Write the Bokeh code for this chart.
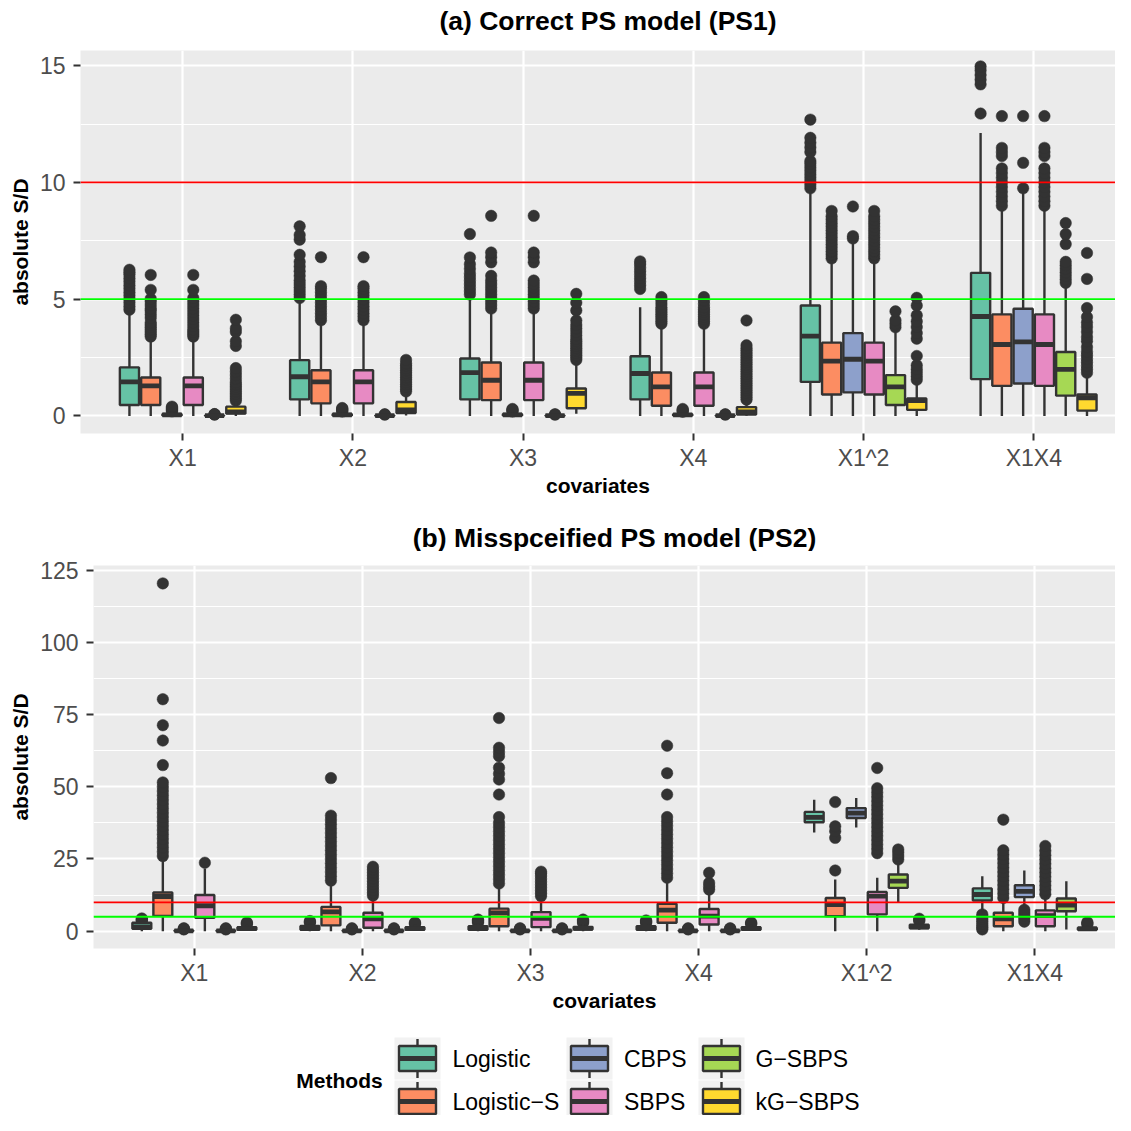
from bokeh.plotting import figure
from bokeh.models import Range1d, FixedTicker, ColumnDataSource, Span
from bokeh.layouts import column
from bokeh.embed import file_html
from bokeh.resources import INLINE
from bokeh.core.properties import value

# ---------------- data ----------------
COVARIATES = ["X1", "X2", "X3", "X4", "X1^2", "X1X4"]
METHODS = ["Logistic", "Logistic\u2212S", "CBPS", "SBPS", "G\u2212SBPS", "kG\u2212SBPS"]
COLORS = ["#66C2A5", "#FC8D62", "#8DA0CB", "#E78AC3", "#A6D854", "#FFD92F"]
THRESHOLDS = [10, 5]
THRESHOLD_COLORS = ["#FF0000", "#00FF00"]
TITLE_A = "(a) Correct PS model (PS1)"
TITLE_B = "(b) Misspceified PS model (PS2)"

# box statistics per method, one row per covariate: [lower whisker, Q1, median, Q3, upper whisker]
PS1_STATS = {
    "Logistic": [[0.0, 0.47, 1.46, 2.08, 4.40], [0.0, 0.71, 1.68, 2.39, 4.95], [0.0, 0.71, 1.86, 2.46, 5.09],
                 [0.0, 0.71, 1.82, 2.56, 4.66], [0.0, 1.46, 3.42, 4.73, 9.64], [0.0, 1.58, 4.26, 6.13, 12.12]],
    "Logistic\u2212S": [[0.0, 0.47, 1.29, 1.65, 3.30], [0.0, 0.54, 1.46, 1.96, 4.00], [0.0, 0.68, 1.53, 2.29, 4.52],
                        [0.0, 0.44, 1.25, 1.86, 3.88], [0.0, 0.92, 2.35, 3.14, 6.65], [0.0, 1.29, 3.06, 4.35, 8.86]],
    "CBPS": [[0.0, 0.02, 0.05, 0.09, 0.18], [0.0, 0.02, 0.05, 0.09, 0.17], [0.0, 0.02, 0.05, 0.09, 0.17],
             [0.0, 0.02, 0.05, 0.08, 0.16], [0.0, 1.01, 2.43, 3.55, 7.50], [0.0, 1.39, 3.17, 4.59, 9.55]],
    "SBPS": [[0.0, 0.47, 1.29, 1.65, 3.30], [0.0, 0.54, 1.46, 1.96, 4.00], [0.0, 0.68, 1.53, 2.29, 4.52],
             [0.0, 0.44, 1.25, 1.86, 3.88], [0.0, 0.92, 2.35, 3.14, 6.65], [0.0, 1.29, 3.06, 4.35, 8.86]],
    "G\u2212SBPS": [[0.0, 0.005, 0.012, 0.025, 0.05], [0.0, 0.005, 0.012, 0.025, 0.05], [0.0, 0.005, 0.012, 0.025, 0.05],
                    [0.0, 0.005, 0.012, 0.025, 0.05], [0.0, 0.47, 1.25, 1.75, 3.67], [0.0, 0.87, 2.00, 2.74, 5.59]],
    "kG\u2212SBPS": [[0.0, 0.10, 0.18, 0.40, 0.60], [0.02, 0.13, 0.26, 0.60, 1.00], [0.10, 0.33, 0.97, 1.18, 2.32],
                     [0.01, 0.06, 0.17, 0.38, 0.65], [0.0, 0.26, 0.66, 0.75, 1.46], [0.0, 0.23, 0.78, 0.92, 1.75]],
}
PS1_OUTLIERS = {
    "Logistic": [[4.55, 4.7, 4.85, 5.0, 5.15, 5.3, 5.45, 5.6, 5.75, 5.9, 6.05, 6.15, 6.26],
                 [5.05, 5.2, 5.35, 5.5, 5.65, 5.8, 6.0, 6.2, 6.4, 6.6, 6.9, 7.55, 7.75, 8.12],
                 [5.2, 5.35, 5.5, 5.65, 5.8, 5.95, 6.1, 6.3, 6.5, 6.79, 7.79],
                 [5.44, 5.6, 5.75, 5.9, 6.05, 6.2, 6.35, 6.5, 6.62],
                 [9.75, 9.9, 10.05, 10.2, 10.35, 10.5, 10.65, 10.8, 10.92, 11.3, 11.5, 11.7, 11.91, 12.69],
                 [12.95, 14.2, 14.4, 14.6, 14.8, 14.97]],
    "Logistic\u2212S": [[3.4, 3.5, 3.6, 3.7, 3.8, 3.9, 4.0, 4.2, 4.35, 4.5, 4.6, 4.75, 4.9, 5.02, 5.4, 6.04],
                        [4.1, 4.25, 4.4, 4.55, 4.7, 4.85, 5.0, 5.15, 5.3, 5.45, 5.56, 6.8],
                        [4.6, 4.75, 4.9, 5.05, 5.2, 5.35, 5.5, 5.65, 5.8, 6.0, 6.58, 6.8, 7.0, 8.57],
                        [3.95, 4.05, 4.15, 4.25, 4.35, 4.45, 4.55, 4.65, 4.8, 4.95, 5.09],
                        [6.75, 6.9, 7.05, 7.2, 7.35, 7.5, 7.65, 7.8, 7.95, 8.1, 8.25, 8.4, 8.55, 8.78],
                        [9.0, 9.2, 9.4, 9.6, 9.8, 10.0, 10.2, 10.4, 10.6, 11.13, 11.3, 11.48, 12.84]],
    "CBPS": [[0.2, 0.24, 0.28, 0.32, 0.36, 0.4], [0.19, 0.23, 0.27, 0.31, 0.34], [0.19, 0.23, 0.27, 0.3],
             [0.18, 0.22, 0.26, 0.3], [7.6, 7.7, 8.97], [9.75, 10.84, 12.84]],
    "SBPS": [[3.4, 3.5, 3.6, 3.7, 3.85, 4.0, 4.15, 4.3, 4.45, 4.6, 4.75, 4.9, 5.05, 5.4, 6.04],
             [4.1, 4.25, 4.4, 4.55, 4.7, 4.85, 5.0, 5.15, 5.3, 5.45, 5.56, 6.8],
             [4.6, 4.75, 4.9, 5.05, 5.2, 5.35, 5.5, 5.65, 5.8, 6.58, 6.8, 7.0, 8.57],
             [3.95, 4.05, 4.15, 4.25, 4.35, 4.45, 4.55, 4.65, 4.8, 4.95, 5.09],
             [6.75, 6.9, 7.05, 7.2, 7.35, 7.5, 7.65, 7.8, 7.95, 8.1, 8.25, 8.4, 8.55, 8.78],
             [9.0, 9.2, 9.4, 9.6, 9.8, 10.0, 10.2, 10.4, 10.6, 11.13, 11.3, 11.48, 12.84]],
    "G\u2212SBPS": [[0.06, 0.07, 0.08], [0.06, 0.07], [0.06, 0.07], [0.06, 0.07], [3.8, 3.95, 4.1, 4.48],
                    [5.7, 5.85, 6.0, 6.15, 6.3, 6.45, 6.6, 7.36, 7.79, 8.26]],
    "kG\u2212SBPS": [[0.65, 0.75, 0.85, 0.95, 1.05, 1.15, 1.25, 1.35, 1.45, 1.6, 1.75, 1.9, 2.05, 3.0, 3.2, 3.6, 3.75, 4.12],
                     [1.05, 1.15, 1.25, 1.35, 1.45, 1.55, 1.65, 1.75, 1.85, 1.95, 2.05, 2.15, 2.25, 2.4],
                     [2.4, 2.5, 2.6, 2.7, 2.8, 2.9, 3.0, 3.1, 3.2, 3.3, 3.45, 3.6, 3.75, 3.9, 4.09, 4.52, 4.85, 5.23],
                     [0.7, 0.8, 0.9, 1.0, 1.1, 1.2, 1.3, 1.4, 1.5, 1.6, 1.7, 1.8, 1.9, 2.0, 2.1, 2.2, 2.3, 2.4, 2.5,
                      2.6, 2.7, 2.8, 2.9, 3.03, 4.09],
                     [1.55, 1.7, 1.85, 2.0, 2.17, 2.57, 3.31, 3.55, 3.81, 4.05, 4.31, 4.73, 5.06],
                     [1.85, 2.0, 2.15, 2.3, 2.45, 2.6, 2.75, 2.95, 3.2, 3.38, 3.6, 3.81, 4.0, 4.24, 4.62, 5.87, 6.98]],
}

PS2_STATS = {
    "Logistic": [[0.0, 0.8, 1.5, 2.9, 3.3], [0.0, 0.5, 1.0, 1.8, 2.7], [0.0, 0.5, 1.0, 1.7, 2.6],
                 [0.0, 0.5, 1.0, 1.7, 2.5], [34.2, 37.7, 39.4, 41.3, 45.5], [6.9, 10.6, 12.7, 14.8, 19.0]],
    "Logistic\u2212S": [[0.0, 5.3, 12.0, 13.4, 25.2], [0.0, 2.0, 6.7, 8.4, 16.5], [0.0, 1.7, 6.3, 7.8, 15.3],
                        [0.0, 2.9, 7.3, 9.5, 17.7], [0.0, 5.2, 9.2, 11.5, 17.9], [0.0, 1.7, 4.3, 6.4, 10.8]],
    "CBPS": [[0.0, 0.05, 0.12, 0.25, 0.5], [0.0, 0.05, 0.12, 0.25, 0.5], [0.0, 0.05, 0.12, 0.25, 0.5],
             [0.0, 0.05, 0.12, 0.25, 0.5], [35.9, 39.2, 40.9, 42.6, 46.1], [8.1, 11.8, 13.8, 15.9, 21.0]],
    "SBPS": [[0.0, 4.6, 8.8, 12.5, 21.7], [0.0, 1.2, 4.3, 6.4, 11.3], [0.0, 1.4, 4.4, 6.6, 11.5],
             [0.0, 2.3, 5.2, 7.7, 13.3], [0.0, 5.8, 12.1, 13.6, 18.5], [0.0, 1.7, 5.4, 7.2, 12.0]],
    "G\u2212SBPS": [[0.0, 0.05, 0.12, 0.25, 0.5], [0.0, 0.05, 0.12, 0.25, 0.5], [0.0, 0.05, 0.12, 0.25, 0.5],
                    [0.0, 0.05, 0.12, 0.25, 0.5], [9.8, 15.0, 17.3, 19.6, 23.5], [0.6, 6.9, 9.0, 11.3, 17.3]],
    "kG\u2212SBPS": [[0.1, 0.5, 0.9, 1.4, 2.2], [0.1, 0.5, 0.9, 1.4, 2.2], [0.0, 0.6, 1.0, 1.5, 2.5],
                     [0.1, 0.5, 0.9, 1.4, 2.2], [0.5, 1.0, 1.5, 2.2, 3.2], [0.1, 0.5, 0.8, 1.2, 2.0]],
}
PS2_OUTLIERS = {
    "Logistic": [[3.5, 3.8, 4.1, 4.4], [2.9, 3.2, 3.5], [2.9, 3.3, 3.7, 4.0], [2.8, 3.1, 3.4, 3.7], [],
                 [0.6, 1.2, 1.8, 2.6, 3.4, 4.2, 5.0, 5.8]],
    "Logistic\u2212S": [[26, 27.5, 29, 30.5, 32, 33.5, 35, 36.5, 38, 39.5, 41, 42.5, 44, 45.5, 47, 48.5, 50, 51.5,
                         57.5, 66, 71.3, 80.3, 120.4],
                        [17.5, 19, 20.5, 22, 23.5, 25, 26.5, 28, 29.5, 31, 32.5, 34, 35.5, 37, 38.5, 40, 53],
                        [16.5, 18, 19.5, 21, 22.5, 24, 25.5, 27, 28.5, 30, 31.5, 33, 34.5, 36, 37.5, 39.5, 47.3,
                         52.5, 54.5, 56.6, 60.6, 62, 63.5, 73.8],
                        [18.5, 20, 21.5, 23, 24.5, 26, 27.5, 29, 30.5, 32, 33.5, 35, 36.5, 38, 39.5, 47.3, 54.7, 64.2],
                        [21.0, 32.3, 34.6, 36.3, 44.7],
                        [11.5, 13, 14.5, 16, 17.5, 19, 20.5, 22, 23.5, 25, 26.5, 28, 38.6]],
    "CBPS": [[0.6, 0.8, 1.0], [0.6, 0.8, 1.0], [0.6, 0.8, 1.0], [0.6, 0.8, 1.0], [], [3.3, 4.4, 5.4, 6.4, 7.4]],
    "SBPS": [[23.7],
             [12.3, 13.3, 14.3, 15.3, 16.3, 17.3, 18.3, 19.3, 20.3, 21.3, 22.3],
             [12.1, 13.1, 14.1, 15.1, 16.1, 17.1, 18.1, 19.1, 20.0, 20.6],
             [14.4, 15.5, 16.7, 20.2],
             [27, 28.5, 30, 31.5, 33, 34.5, 36, 37.5, 39, 40.5, 42, 43.5, 45, 46.5, 48, 49.5, 56.5],
             [12.8, 14.3, 15.8, 17.3, 18.8, 20.3, 21.8, 23.3, 24.8, 26.3, 27.8, 29.5]],
    "G\u2212SBPS": [[0.6, 0.8, 1.0], [0.6, 0.8, 1.0], [0.6, 0.8, 1.0], [0.6, 0.8, 1.0], [24.8, 26.0, 27.2, 28.3], []],
    "kG\u2212SBPS": [[2.4, 2.7, 3.0], [2.4, 2.7, 3.0], [2.8, 3.2, 3.6, 4.0], [2.4, 2.7, 3.0], [3.5, 3.9, 4.3],
                     [2.3, 2.7, 3.1]],
}

PS1_YTICKS = [0, 5, 10, 15]
PS1_YMINOR = [2.5, 7.5, 12.5]
PS2_YTICKS = [0, 25, 50, 75, 100, 125]
PS2_YMINOR = [12.5, 37.5, 62.5, 87.5, 112.5]

# ---------------- styling / layout ----------------
FONT = "Liberation Sans"
FIG_W = 1115
DODGE = 0.125
BOX_W = 0.1125
DARK = "#333333"
X_RANGE = (0.4, 6.48)


def text_strip(height, x, y, text, size):
    s = figure(width=FIG_W, height=height, x_range=Range1d(0, FIG_W), y_range=Range1d(height, 0),
               output_backend="svg", toolbar_location=None, min_border=0, title=None,
               x_axis_type=None, y_axis_type=None, outline_line_color=None,
               border_fill_color="white", background_fill_color="white")
    s.frame_align = False
    s.text(x=[x], y=[y], text=[text], text_font=value(FONT), text_font_size=size, text_font_style="bold",
           text_color="black", text_baseline="middle", text_align="center")
    return s


def build_panel(stats, outliers, y_range, yticks, yminor, height, b_left, b_top, b_bottom):
    p = figure(width=FIG_W, height=height, x_range=Range1d(*X_RANGE), y_range=Range1d(*y_range),
               output_backend="svg", toolbar_location=None, title=None,
               min_border_left=b_left, min_border_right=0, min_border_top=b_top, min_border_bottom=b_bottom,
               background_fill_color="#EBEBEB", border_fill_color="white", outline_line_color=None)
    p.frame_align = False
    box = dict(x=[], xl=[], xr=[], lo=[], q1=[], med=[], q3=[], hi=[], color=[])
    pts = dict(x=[], y=[])
    n = len(METHODS)
    for ci, cov in enumerate(COVARIATES):
        for mi, m in enumerate(METHODS):
            x = ci + 1 + (mi - (n - 1) / 2) * DODGE
            lo, q1, med, q3, hi = stats[m][ci]
            box["x"].append(x)
            box["xl"].append(x - BOX_W / 2)
            box["xr"].append(x + BOX_W / 2)
            box["lo"].append(lo)
            box["q1"].append(q1)
            box["med"].append(med)
            box["q3"].append(q3)
            box["hi"].append(hi)
            box["color"].append(COLORS[mi])
            for v in outliers[m][ci]:
                pts["x"].append(x)
                pts["y"].append(v)
    bsrc = ColumnDataSource(box)
    psrc = ColumnDataSource(pts)
    p.scatter("x", "y", source=psrc, size=11.5, fill_color=DARK, line_color=DARK, line_width=0.5)
    p.segment(x0="x", y0="q3", x1="x", y1="hi", source=bsrc, line_color=DARK, line_width=2.4)
    p.segment(x0="x", y0="lo", x1="x", y1="q1", source=bsrc, line_color=DARK, line_width=2.4)
    p.vbar(x="x", width=BOX_W, bottom="q1", top="q3", source=bsrc, fill_color="color",
           line_color=DARK, line_width=2.4)
    p.segment(x0="xl", y0="med", x1="xr", y1="med", source=bsrc, line_color=DARK, line_width=4.8,
              line_cap="butt")
    for t, c in zip(THRESHOLDS, THRESHOLD_COLORS):
        p.add_layout(Span(location=t, dimension="width", line_color=c, line_width=1.8))

    # axes
    p.xaxis.ticker = FixedTicker(ticks=list(range(1, len(COVARIATES) + 1)))
    p.xaxis.major_label_overrides = {i + 1: c for i, c in enumerate(COVARIATES)}
    p.yaxis.ticker = FixedTicker(ticks=yticks, minor_ticks=yminor)
    p.xaxis.axis_label = "covariates"
    p.yaxis.axis_label = "absolute S/D"
    for ax in (p.xaxis, p.yaxis):
        ax.axis_line_color = None
        ax.major_tick_line_color = DARK
        ax.major_tick_line_width = 2
        ax.major_tick_out = 7
        ax.major_tick_in = 0
        ax.minor_tick_line_color = None
        ax.major_label_text_font = FONT
        ax.major_label_text_font_size = "23px"
        ax.major_label_text_color = "#4D4D4D"
        ax.axis_label_text_font = FONT
        ax.axis_label_text_font_style = "bold"
        ax.axis_label_text_font_size = "21px"
        ax.axis_label_text_color = "black"
    p.xaxis.major_label_standoff = 4
    p.xaxis.axis_label_standoff = 0
    p.yaxis.major_label_standoff = 8
    p.yaxis.axis_label_standoff = 5

    # grid
    p.xgrid.ticker = FixedTicker(ticks=list(range(1, len(COVARIATES) + 1)))
    p.xgrid.grid_line_color = "white"
    p.xgrid.grid_line_width = 2.2
    p.ygrid.ticker = FixedTicker(ticks=yticks, minor_ticks=yminor)
    p.ygrid.grid_line_color = "white"
    p.ygrid.grid_line_width = 2.2
    p.ygrid.minor_grid_line_color = "white"
    p.ygrid.minor_grid_line_width = 1.1
    return p


title_a = text_strip(38, 607.5, 20, TITLE_A, "26.5px")
top = build_panel(PS1_STATS, PS1_OUTLIERS, (-0.75, 15.65), PS1_YTICKS, PS1_YMINOR,
                  height=473, b_left=80, b_top=12, b_bottom=78)
title_b = text_strip(40, 614, 26, TITLE_B, "26.5px")
bottom = build_panel(PS2_STATS, PS2_OUTLIERS, (-6.0, 126.6), PS2_YTICKS, PS2_YMINOR,
                     height=471, b_left=93, b_top=14, b_bottom=74)

# ---------------- legend (separate strip, pixel coordinates) ----------------
LEG_H = 93
KEY_COL_X = [417, 589, 721]
KEY_ROW_Y = [36, 79]
LABEL_COL_X = [452, 623.5, 755]
TITLE_XY = (339, 57.5)
KEY_BG_W, KEY_BG_H = 46, 42
KEY_BOX_W, KEY_BOX_H = 37, 25
KEY_WHISKER = 7

leg = figure(width=FIG_W, height=LEG_H, x_range=Range1d(0, FIG_W), y_range=Range1d(LEG_H, 0),
             output_backend="svg", toolbar_location=None, min_border=0, title=None,
             x_axis_type=None, y_axis_type=None, outline_line_color=None, border_fill_color="white",
             background_fill_color="white")
leg.frame_align = False
lk = dict(x=[], y=[], yt0=[], yt1=[], yb0=[], yb1=[], xl=[], xr=[], lx=[], color=[], label=[])
for i, m in enumerate(METHODS):
    col, row = i // 2, i % 2
    x, y = KEY_COL_X[col], KEY_ROW_Y[row]
    lk["x"].append(x)
    lk["y"].append(y)
    lk["yt0"].append(y - KEY_BOX_H / 2 - KEY_WHISKER)
    lk["yt1"].append(y - KEY_BOX_H / 2)
    lk["yb0"].append(y + KEY_BOX_H / 2)
    lk["yb1"].append(y + KEY_BOX_H / 2 + KEY_WHISKER)
    lk["xl"].append(x - KEY_BOX_W / 2)
    lk["xr"].append(x + KEY_BOX_W / 2)
    lk["lx"].append(LABEL_COL_X[col])
    lk["color"].append(COLORS[i])
    lk["label"].append(m)
lsrc = ColumnDataSource(lk)
leg.rect(x="x", y="y", width=KEY_BG_W, height=KEY_BG_H, source=lsrc, fill_color="#F2F2F2", line_color=None)
leg.segment(x0="x", y0="yt0", x1="x", y1="yt1", source=lsrc, line_color=DARK, line_width=2.4)
leg.segment(x0="x", y0="yb0", x1="x", y1="yb1", source=lsrc, line_color=DARK, line_width=2.4)
leg.rect(x="x", y="y", width=KEY_BOX_W, height=KEY_BOX_H, source=lsrc, fill_color="color",
         line_color=DARK, line_width=2.4)
leg.segment(x0="xl", y0="y", x1="xr", y1="y", source=lsrc, line_color=DARK, line_width=4.8, line_cap="butt")
leg.text(x="lx", y="y", text="label", source=lsrc, text_font=value(FONT), text_font_size="23px",
         text_color="black", text_baseline="middle", text_align="left")
leg.text(x=[TITLE_XY[0]], y=[TITLE_XY[1]], text=["Methods"], text_font=value(FONT), text_font_size="21px",
         text_font_style="bold", text_color="black", text_baseline="middle", text_align="center")

layout = column(title_a, top, title_b, bottom, leg, spacing=0)
open("out.html", "w").write(file_html(layout, INLINE))
